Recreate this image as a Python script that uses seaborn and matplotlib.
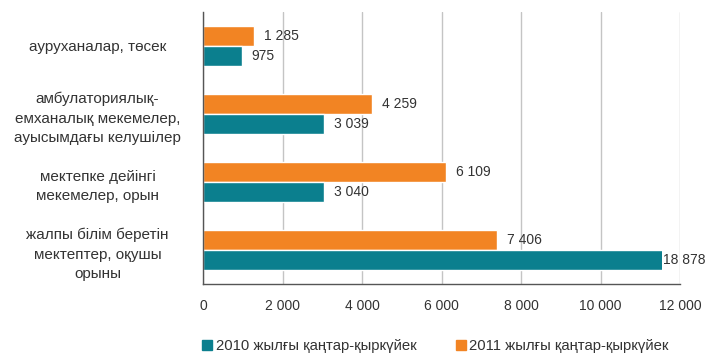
import matplotlib
matplotlib.use("Agg")
import matplotlib.pyplot as plt
from matplotlib.patches import Rectangle
from matplotlib.lines import Line2D
import pandas as pd
import seaborn as sns

categories = [
    "ауруханалар, төсек",
    "амбулаториялық-\nемханалық мекемелер,\nауысымдағы келушілер",
    "мектепке дейінгі\nмекемелер, орын",
    "жалпы білім беретін\nмектептер, оқушы\nорыны",
]
series_2010 = "2010 жылғы қаңтар-қыркүйек"
series_2011 = "2011 жылғы қаңтар-қыркүйек"
values_2010 = [975, 3039, 3040, 18878]
values_2011 = [1285, 4259, 6109, 7406]
x_ticks = [0, 2000, 4000, 6000, 8000, 10000, 12000]

TEAL = "#0B7F8E"
ORANGE = "#F28423"
TEXT = "#333333"
AXIS_MAX = 12000
BREAK_AT = 11540  # bars longer than the axis are shown truncated here


def fmt(v):
    return f"{v:,}".replace(",", " ")


sns.set_style("white")
plt.rcParams["font.family"] = ["Liberation Sans", "DejaVu Sans"]
plt.rcParams["text.color"] = TEXT

df = pd.DataFrame({
    "category": categories * 2,
    "value": values_2011 + values_2010,
    "series": [series_2011] * len(categories) + [series_2010] * len(categories),
})

fig = plt.figure(figsize=(7.05, 3.55), dpi=100)
ax = fig.add_axes([203 / 705, 1 - 284 / 355, 477 / 705, 272 / 355])

sns.barplot(
    data=df, y="category", x="value", hue="series",
    hue_order=[series_2011, series_2010],
    palette={series_2011: ORANGE, series_2010: TEAL},
    orient="h", width=0.6, saturation=1, legend=False, ax=ax,
)

ax.set_xlim(0, AXIS_MAX)
ax.set_ylim(len(categories) - 0.5, -0.5)
ax.set_xticks(x_ticks)
ax.set_xticklabels([fmt(t) for t in x_ticks], fontsize=10, color=TEXT)
ax.set_xlabel("")
ax.set_ylabel("")

ax.xaxis.grid(True, color="#C4C4C4", linewidth=1)
ax.set_axisbelow(True)
for side in ("top", "right"):
    ax.spines[side].set_visible(False)
for side in ("left", "bottom"):
    ax.spines[side].set_color("#555555")
    ax.spines[side].set_linewidth(1)

ax.tick_params(axis="x", direction="out", length=5, width=1, color="#555555", pad=6)
ax.set_yticks(range(len(categories)))
ax.set_yticklabels(categories, fontsize=11, color=TEXT)
ax.set_yticks([i - 0.5 for i in range(len(categories) + 1)], minor=True)
ax.tick_params(axis="y", which="major", length=0, pad=76)
ax.tick_params(axis="y", which="minor", direction="out", length=5, width=1, color="#555555")
for lbl in ax.get_yticklabels():
    lbl.set_horizontalalignment("center")
    lbl.set_multialignment("center")
    lbl.set_linespacing(1.52)

for container, vals in zip(ax.containers, [values_2011, values_2010]):
    for bar, v in zip(container, vals):
        end = v
        if v > AXIS_MAX:
            clip = Rectangle((0, -10), BREAK_AT, 100, transform=ax.transData)
            bar.set_clip_path(clip)
            end = BREAK_AT
            offset = 1
        else:
            offset = 7
        yc = bar.get_y() + bar.get_height() / 2
        ax.annotate(fmt(v), (end, yc), xytext=(offset, 0), textcoords="offset points",
                    ha="left", va="center", fontsize=10, color=TEXT, annotation_clip=False)

handles = [
    Line2D([], [], marker="s", linestyle="none", markersize=7, color=TEAL),
    Line2D([], [], marker="s", linestyle="none", markersize=7, color=ORANGE),
]
fig.legend(handles, [series_2010, series_2011], loc="center",
           bbox_to_anchor=(435 / 705, 1 - 346 / 355), ncol=2, frameon=False,
           fontsize=10.7, handletextpad=0.15, columnspacing=2.6, handlelength=0.8,
           borderpad=0)

fig.savefig("out.png", dpi=100)
